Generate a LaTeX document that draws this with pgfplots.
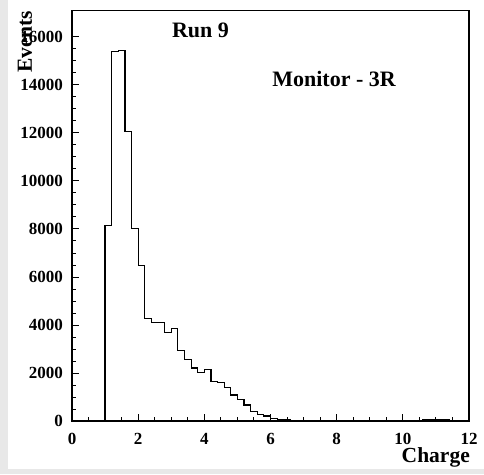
\documentclass[border=0pt]{standalone}
\usepackage{pgfplots}
\pgfplotsset{compat=1.18}
\usepackage{pgfplotstable}
\usepackage{fontspec}
\setmainfont{Liberation Serif}
\pgfplotstableread{
x y
0.0 0
1.0 8150
1.2 15390
1.4 15430
1.6 12070
1.8 8030
2.0 6470
2.2 4280
2.4 4120
2.6 4120
2.8 3690
3.0 3850
3.2 2940
3.4 2560
3.6 2210
3.8 2030
4.0 2160
4.2 1650
4.4 1600
4.6 1400
4.8 1080
5.0 900
5.2 670
5.4 390
5.6 280
5.8 210
6.0 110
6.2 70
6.4 40
6.6 20
6.8 15
7.0 10
7.4 5
8.0 3
9.0 5
10.0 8
10.6 40
11.4 8
12.0 0
}\histdata
\definecolor{bggray}{RGB}{232,232,232}
\begin{document}
\begin{tikzpicture}[x=1pt,y=1pt]
\path[use as bounding box] (0,0) rectangle (484,474);
\fill[bggray] (0,0) rectangle (8,474);
\fill[bggray] (8,0) rectangle (484,5);
\begin{axis}[
  at={(72pt,53pt)}, anchor=south west,
  scale only axis, width=397pt, height=410.4pt,
  xmin=0, xmax=12, ymin=0, ymax=17100,
  xtick={0,2,...,12}, ytick={0,2000,...,16000},
  minor x tick num=3, minor y tick num=3,
  tick align=inside, xtick pos=left, ytick pos=left,
  major tick length=7pt, minor tick length=4pt,
  axis line style={line width=1.3pt},
  every tick/.style={line width=1pt, black},
  scaled y ticks=false,
  /pgf/number format/assume math mode=true,
  /pgf/number format/1000 sep={},
  tick label style={font=\fontsize{17}{19}\selectfont\bfseries, inner sep=0pt},
  yticklabel style={anchor=east, xshift=-9pt},
  xticklabel style={anchor=north, yshift=-12pt},
  xlabel={Charge}, ylabel={Events},
  label style={font=\fontsize{21.5}{24}\selectfont\bfseries},
  xlabel style={at={(axis description cs:1.0025,-0.1023)}, anchor=base east, inner sep=0pt},
  ylabel style={at={(axis description cs:-0.1008,1.0)}, anchor=base east, rotate=0, inner sep=0pt},
  clip=false,
]
\addplot[const plot mark left, line width=1.2pt, black] table[x=x,y=y] {\histdata};
\node[anchor=base west, inner sep=0pt, font=\fontsize{22}{24}\selectfont\bfseries] at (axis cs:3.02,15960) {Run 9};
\node[anchor=base west, inner sep=0pt, font=\fontsize{22}{24}\selectfont\bfseries] at (axis cs:6.05,13920) {Monitor - 3R};
\end{axis}
\end{tikzpicture}
\end{document}
